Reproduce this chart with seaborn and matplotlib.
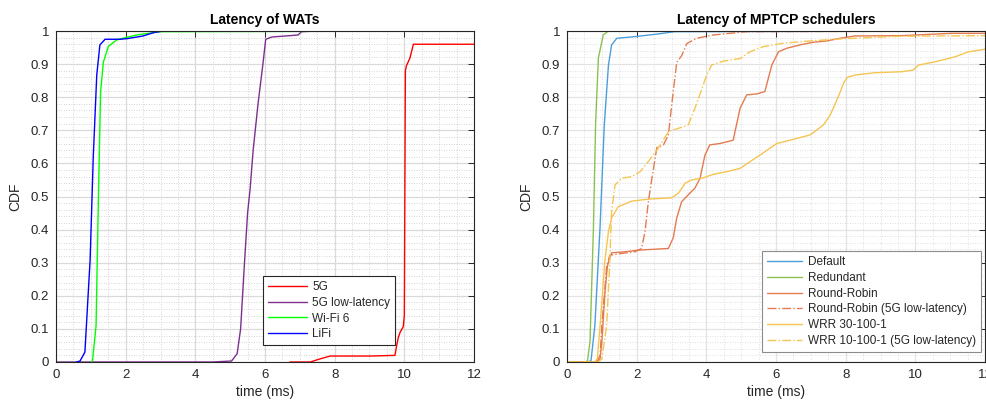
import matplotlib
matplotlib.use("Agg")
import matplotlib.pyplot as plt
from matplotlib.ticker import MultipleLocator
import seaborn as sns

# ---------------- data: left panel (Latency of WATs) ----------------
g5_x = [6.72, 7.3, 7.6, 7.87, 9.0, 9.73, 9.78, 9.83, 9.88, 9.97, 10.0, 10.03, 10.06, 10.16, 10.26, 12.0]
g5_y = [0.0, 0.0, 0.01, 0.018, 0.018, 0.02, 0.05, 0.075, 0.09, 0.107, 0.14, 0.88, 0.895, 0.918, 0.96, 0.96]

g5ll_x = [0.0, 4.5, 5.04, 5.2, 5.3, 5.4, 5.5, 5.57, 5.66, 5.8, 5.94, 6.02, 6.2, 6.6, 6.95, 7.05, 7.5]
g5ll_y = [0.0, 0.0, 0.003, 0.025, 0.1, 0.28, 0.45, 0.52, 0.64, 0.78, 0.90, 0.975, 0.982, 0.985, 0.988, 0.998, 1.0]

wifi_x = [1.02, 1.05, 1.15, 1.22, 1.28, 1.36, 1.50, 1.74, 2.0, 2.32, 2.99, 12.0]
wifi_y = [0.0, 0.005, 0.11, 0.51, 0.815, 0.906, 0.953, 0.973, 0.98, 0.988, 0.998, 1.0]

lifi_x = [0.59, 0.69, 0.83, 0.98, 1.07, 1.17, 1.26, 1.41, 1.84, 2.05, 2.5, 2.8, 3.07, 7.2]
lifi_y = [0.0, 0.003, 0.03, 0.31, 0.62, 0.867, 0.958, 0.975, 0.975, 0.977, 0.985, 0.995, 1.0, 1.0]

# ---------------- data: right panel (MPTCP schedulers) ----------------
def_x = [0.0, 0.62, 0.69, 0.80, 0.95, 1.07, 1.19, 1.28, 1.43, 1.95, 2.53, 3.1, 12.0]
def_y = [0.0, 0.0, 0.005, 0.11, 0.41, 0.716, 0.897, 0.958, 0.978, 0.983, 0.99, 0.998, 1.0]

red_x = [0.0, 0.55, 0.59, 0.66, 0.76, 0.82, 0.90, 1.04, 1.19, 12.0]
red_y = [0.0, 0.0, 0.005, 0.06, 0.41, 0.716, 0.918, 0.988, 1.0, 1.0]

rr_x = [0.0, 0.85, 0.95, 1.0, 1.09, 1.16, 1.28, 1.67, 2.05, 2.91, 3.05, 3.15, 3.29, 3.48, 3.67,
        3.82, 3.96, 4.1, 4.39, 4.77, 4.97, 5.16, 5.45, 5.68, 5.88, 6.07, 6.31, 6.69, 7.07, 7.46,
        7.84, 8.27, 9.61, 11.04, 12.0]
rr_y = [0.0, 0.0, 0.01, 0.06, 0.21, 0.29, 0.33, 0.333, 0.338, 0.343, 0.375, 0.435, 0.484, 0.505, 0.525,
        0.555, 0.625, 0.656, 0.66, 0.67, 0.767, 0.807, 0.81, 0.817, 0.897, 0.937, 0.948, 0.958, 0.966, 0.97,
        0.978, 0.985, 0.986, 0.993, 0.993]

rrll_x = [0.0, 0.85, 0.95, 1.0, 1.14, 1.23, 1.57, 1.95, 2.14, 2.24, 2.33, 2.43, 2.58, 2.77, 2.91,
          3.05, 3.15, 3.29, 3.44, 3.72, 4.2, 5.16, 12.0]
rrll_y = [0.0, 0.0, 0.02, 0.11, 0.29, 0.323, 0.328, 0.333, 0.343, 0.394, 0.48, 0.55, 0.648, 0.656, 0.686,
          0.817, 0.905, 0.925, 0.962, 0.978, 0.988, 0.998, 1.0]

wrr_x = [0.0, 0.8, 0.87, 0.95, 1.09, 1.19, 1.28, 1.47, 1.86, 2.33, 3.0, 3.2, 3.39, 3.58, 3.9,
         4.2, 4.59, 4.97, 5.25, 5.54, 6.02, 6.40, 6.98, 7.36, 7.55, 7.7, 7.84, 7.95, 8.05, 8.27,
         8.84, 9.61, 9.94, 10.09, 10.57, 11.14, 11.52, 12.0]
wrr_y = [0.0, 0.0, 0.01, 0.11, 0.31, 0.394, 0.435, 0.469, 0.486, 0.492, 0.496, 0.51, 0.54, 0.55, 0.556,
         0.567, 0.575, 0.585, 0.605, 0.625, 0.66, 0.67, 0.686, 0.716, 0.745, 0.78, 0.815, 0.845, 0.86, 0.867,
         0.874, 0.877, 0.882, 0.897, 0.907, 0.922, 0.937, 0.945]

wrrll_x = [0.0, 0.9, 1.0, 1.14, 1.23, 1.28, 1.38, 1.57, 1.86, 2.10, 2.33, 2.62, 2.91, 3.2, 3.48,
           3.67, 3.82, 4.01, 4.15, 4.49, 4.97, 5.25, 5.64, 6.21, 6.98, 7.84, 9.5, 12.0]
wrrll_y = [0.0, 0.0, 0.01, 0.11, 0.31, 0.454, 0.535, 0.555, 0.56, 0.575, 0.605, 0.646, 0.696, 0.706, 0.716,
           0.766, 0.81, 0.867, 0.897, 0.909, 0.917, 0.937, 0.953, 0.963, 0.97, 0.976, 0.984, 0.986]

titles = ["Latency of WATs", "Latency of MPTCP schedulers"]
xticks = [0, 2, 4, 6, 8, 10, 12]
yticks = [0, 0.1, 0.2, 0.3, 0.4, 0.5, 0.6, 0.7, 0.8, 0.9, 1]
ytick_labels = ["0", "0.1", "0.2", "0.3", "0.4", "0.5", "0.6", "0.7", "0.8", "0.9", "1"]

sns.set_style("white")
plt.rcParams["font.family"] = ["Liberation Sans", "DejaVu Sans"]
plt.rcParams["axes.unicode_minus"] = False

W, H = 986, 401
fig = plt.figure(figsize=(W / 100, H / 100), dpi=100)
axL = fig.add_axes([56 / W, (H - 362) / H, 418 / W, 331 / H])
axR = fig.add_axes([567 / W, (H - 362) / H, 418 / W, 331 / H])

txt = "#262626"

def style_axes(ax, title, major_c, minor_c):
    ax.set_xlim(0, 12)
    ax.set_ylim(0, 1)
    ax.set_xticks(xticks)
    ax.set_xticklabels([str(t) for t in xticks])
    ax.set_yticks(yticks)
    ax.set_yticklabels(ytick_labels)
    ax.xaxis.set_minor_locator(MultipleLocator(0.5))
    ax.yaxis.set_minor_locator(MultipleLocator(0.02))
    ax.grid(True, which="major", color=major_c, linewidth=0.9, linestyle="-")
    ax.grid(True, which="minor", color=minor_c, linewidth=0.6, linestyle=(0, (1, 2)))
    ax.set_axisbelow(True)
    ax.tick_params(which="major", direction="in", length=4, width=0.7, colors=txt,
                   labelsize=9.5, top=True, right=True, pad=5)
    ax.tick_params(which="minor", length=0, top=True, right=True)
    for s in ax.spines.values():
        s.set_visible(True)
        s.set_color(txt)
        s.set_linewidth(0.8)
    ax.set_title(title, fontsize=10, fontweight="bold", color="black", pad=5)
    ax.set_xlabel("time (ms)", fontsize=10, color=txt, labelpad=3)
    ax.set_ylabel("CDF", fontsize=10, color=txt, labelpad=6)

# ---------- left panel ----------
left_series = [
    (g5_x, g5_y, "5G", "#FF0000"),
    (g5ll_x, g5ll_y, "5G low-latency", "#7E2F8E"),
    (wifi_x, wifi_y, "Wi-Fi 6", "#00FF00"),
    (lifi_x, lifi_y, "LiFi", "#0000FF"),
]
for xs, ys, lab, col in left_series:
    sns.lineplot(x=xs, y=ys, ax=axL, color=col, label=lab, linewidth=1.0,
                 estimator=None, sort=False)
style_axes(axL, titles[0], "#DADADA", "#C8C8C8")
legL = axL.legend(loc="lower left", bbox_to_anchor=(0.495, 0.051), borderaxespad=0,
                  fontsize=8.5, frameon=True, fancybox=False, edgecolor="#262626",
                  framealpha=1, handlelength=3.3, labelspacing=0.32, borderpad=0.4,
                  handletextpad=0.5)
legL.get_frame().set_linewidth(0.8)
for t in legL.get_texts():
    t.set_color(txt)

# ---------- right panel ----------
right_series = [
    (def_x, def_y, "Default", "#4A9FDA", "-"),
    (red_x, red_y, "Redundant", "#8CC152", "-"),
    (rr_x, rr_y, "Round-Robin", "#E47B50", "-"),
    (rrll_x, rrll_y, "Round-Robin (5G low-latency)", "#E47B50", "-."),
    (wrr_x, wrr_y, "WRR 30-100-1", "#F5C552", "-"),
    (wrrll_x, wrrll_y, "WRR 10-100-1 (5G low-latency)", "#F5C552", "-."),
]
for xs, ys, lab, col, ls in right_series:
    sns.lineplot(x=xs, y=ys, ax=axR, color=col, label=lab, linewidth=1.0,
                 linestyle=ls, estimator=None, sort=False)
style_axes(axR, titles[1], "#E3E3E3", "#D5D5D5")
legR = axR.legend(loc="lower left", bbox_to_anchor=(0.466, 0.031), borderaxespad=0,
                  fontsize=8.5, frameon=True, fancybox=False, edgecolor="#8C8C8C",
                  framealpha=1, handlelength=3.0, labelspacing=0.32, borderpad=0.4,
                  handletextpad=0.5)
legR.get_frame().set_linewidth(0.8)
for t in legR.get_texts():
    t.set_color(txt)

fig.savefig("out.png", dpi=100)
